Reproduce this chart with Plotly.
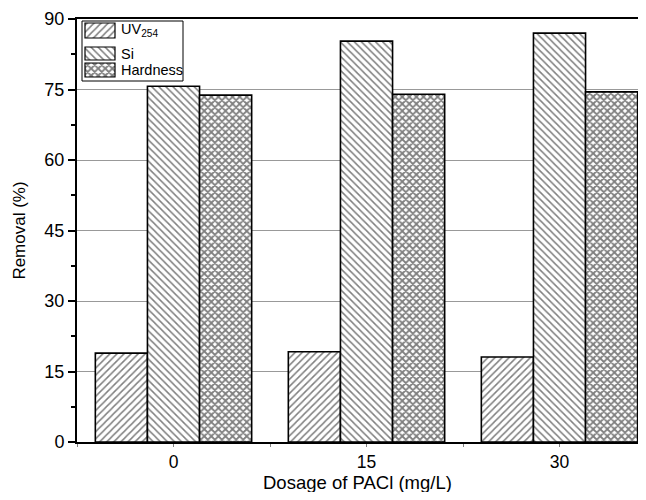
import plotly.graph_objects as go

categories = ["0", "15", "30"]
uv254 = [18.9, 19.2, 18.1]
si = [75.7, 85.3, 87.0]
hardness = [73.8, 74.0, 74.5]

series_names = ["UV<sub>254</sub>", "Si", "Hardness"]
series_shapes = ["/", "\\", "x"]

x = list(range(len(categories)))
font = "Liberation Sans, Arial, sans-serif"

# figure geometry (page body has an 8px margin)
W, H = 630, 484
L, T, B, R = 69, 11, 50, 0
PW, PH = W - L - R, H - T - B

def bar(name, vals, shape, sol):
    return go.Bar(
        x=x, y=vals, name=name, showlegend=False,
        marker=dict(color="white", line=dict(color="black", width=1.6),
                    pattern=dict(shape=shape, fgcolor="black", bgcolor="white",
                                 size=5, solidity=sol)),
    )

fig = go.Figure([
    bar(series_names[0], uv254, series_shapes[0], 0.3),
    bar(series_names[1], si, series_shapes[1], 0.3),
    bar(series_names[2], hardness, series_shapes[2], 0.6),
])

# custom legend drawn in pixel coordinates of the plot area
sw_x0, sw_x1 = 8, 38
sw_tops = [4, 28, 44]
sw_bots = [19, 41, 58]
fig.add_trace(go.Bar(
    x=[(sw_x0 + sw_x1) / 2] * 3,
    y=[b - t for t, b in zip(sw_tops, sw_bots)],
    base=sw_tops, width=[sw_x1 - sw_x0] * 3,
    xaxis="x2", yaxis="y2", showlegend=False, hoverinfo="skip",
    marker=dict(color="white", line=dict(color="black", width=1.2),
                pattern=dict(shape=series_shapes, fgcolor="black", bgcolor="white",
                             size=5, solidity=[0.3, 0.3, 0.6])),
))
fig.add_shape(type="rect", xref="x2", yref="y2", x0=5, x1=106, y0=2, y1=62,
              line=dict(color="black", width=1), fillcolor="white", layer="below")
text_y = [11, 34.5, 51]
for name, ty in zip(series_names, text_y):
    fig.add_annotation(xref="x2", yref="y2", x=42, y=ty, text=name, showarrow=False,
                       xanchor="left", yanchor="middle", font=dict(size=14.5, family=font))

# x-axis title as an annotation pinned to the bottom of the figure
fig.add_annotation(xref="paper", yref="paper", x=0.5, y=-B / PH, yanchor="bottom",
                   text="Dosage of PACl (mg/L)", showarrow=False, borderpad=0,
                   yshift=-2, font=dict(size=18.5, family=font))

fig.update_layout(
    width=W, height=H,
    margin=dict(l=L, r=R, t=T, b=B, autoexpand=False),
    paper_bgcolor="white", plot_bgcolor="white",
    barmode="group", bargap=0.19, bargroupgap=0,
    font=dict(family=font, color="black", size=18),
    showlegend=False,
    xaxis2=dict(overlaying="x", range=[0, PW], visible=False, fixedrange=True),
    yaxis2=dict(overlaying="y", range=[PH, 0], visible=False, fixedrange=True),
)

fig.layout.xaxis.update(
    range=[-0.5, -0.5 + PW / 193.0],
    tickmode="array", tickvals=x, ticktext=categories,
    showline=True, linecolor="black", linewidth=2, mirror=True,
    ticks="outside", ticklen=3, tickcolor="gray",
    minor=dict(dtick=0.5, tick0=0.5, ticks="outside", ticklen=3, tickcolor="gray"),
    showgrid=False, zeroline=False,
    tickfont=dict(size=17.5), ticklabelstandoff=0,
    layer="above traces",
)

fig.layout.yaxis.update(
    range=[0, 90], dtick=15, tick0=0,
    showline=True, linecolor="black", linewidth=2, mirror=False,
    ticks="outside", ticklen=7, tickwidth=2, tickcolor="black",
    minor=dict(dtick=7.5, ticks="outside", ticklen=4, tickwidth=2, tickcolor="black", showgrid=False),
    showgrid=True, gridcolor="#999999", gridwidth=1,
    zeroline=False,
    title=dict(text="Removal (%)", font=dict(size=17), standoff=14),
    tickfont=dict(size=18),
    layer="above traces",
)

fig.write_html("out.html")
